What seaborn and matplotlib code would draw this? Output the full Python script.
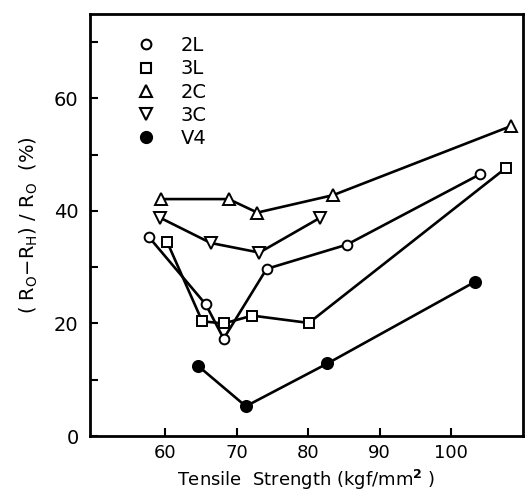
import matplotlib
matplotlib.use("Agg")
import matplotlib.pyplot as plt
from matplotlib.lines import Line2D
import pandas as pd
import seaborn as sns

# data
x_2l = [57.8, 65.7, 68.2, 74.2, 85.4, 104.0]
y_2l = [35.3, 23.4, 17.3, 29.7, 34.0, 46.5]
x_3l = [60.3, 65.2, 68.2, 72.2, 80.1, 107.7]
y_3l = [34.5, 20.4, 20.0, 21.4, 20.1, 47.7]
x_2c = [59.5, 68.9, 72.9, 83.5, 108.4]
y_2c = [42.1, 42.1, 39.7, 42.8, 55.1]
x_3c = [59.3, 66.4, 73.2, 81.7]
y_3c = [38.8, 34.3, 32.6, 38.8]
x_v4 = [64.6, 71.3, 82.7, 103.3]
y_v4 = [12.5, 5.3, 12.9, 27.4]

series = {
    "2L": (x_2l, y_2l, "o", "white", 7),
    "3L": (x_3l, y_3l, "s", "white", 7.5),
    "2C": (x_2c, y_2c, "^", "white", 8),
    "3C": (x_3c, y_3c, "v", "white", 8),
    "V4": (x_v4, y_v4, "o", "black", 8),
}

sns.set_style("ticks")
plt.rcParams['font.family'] = ['DejaVu Sans']
plt.rcParams['text.color'] = 'black'
plt.rcParams['axes.labelcolor'] = 'black'
plt.rcParams['xtick.color'] = 'black'
plt.rcParams['ytick.color'] = 'black'
plt.rcParams['axes.edgecolor'] = 'black'

fig = plt.figure(figsize=(5.25, 4.95), dpi=100)
ax = fig.add_axes([0.171, 0.119, 0.825, 0.853])

for name, (xs, ys, mk, fc, ms) in series.items():
    df = pd.DataFrame({"x": xs, "y": ys})
    sns.lineplot(data=df, x="x", y="y", ax=ax, color="black", linewidth=1.9,
                 marker=mk, markersize=ms, markerfacecolor=fc,
                 markeredgecolor="black", markeredgewidth=1.4, sort=False)

handles = [Line2D([], [], linestyle="none", marker=s[2], markersize=s[4],
                  markerfacecolor=s[3], markeredgecolor="black",
                  markeredgewidth=1.5) for s in series.values()]
ax.legend(handles, list(series.keys()), loc="upper left",
          bbox_to_anchor=(0.08, 0.975), frameon=False, fontsize=14,
          handletextpad=1.3, labelspacing=0.22, handlelength=1.0,
          borderaxespad=0.2)

ax.set_xlim(49.5, 110)
ax.set_ylim(0, 75)
ax.set_xticks([60, 70, 80, 90, 100])
ax.set_yticks([0, 10, 20, 30, 40, 50, 60, 70])
ax.set_yticklabels(["0", "", "20", "", "40", "", "60", ""])
ax.tick_params(direction="in", length=6, width=1.5, labelsize=14, pad=8)
ax.tick_params(axis="x", labelsize=13, pad=6)
for sp in ax.spines.values():
    sp.set_linewidth(2)
    sp.set_visible(True)

ax.set_xlabel("Tensile  Strength (kgf/mm$^\\mathbf{2}$ )", fontsize=13, labelpad=4)
ax.set_ylabel("( R$_\\mathrm{O}$$-$R$_\\mathrm{H}$) / R$_\\mathrm{O}$  (%)", fontsize=14,
              labelpad=10)

fig.savefig("out.png", dpi=100)
